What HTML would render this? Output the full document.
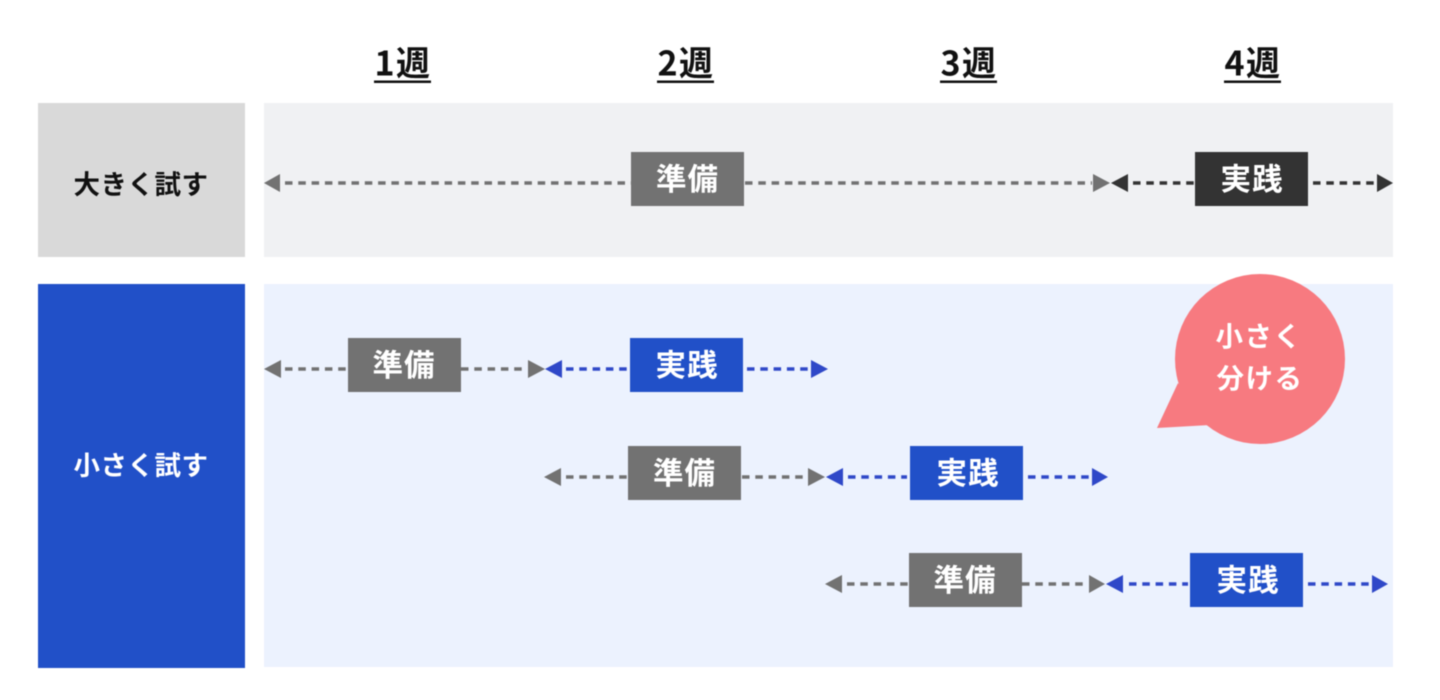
<!DOCTYPE html>
<html lang="ja"><head><meta charset="utf-8"><title>週</title>
<style>
html,body{margin:0;padding:0;background:#fff;width:1440px;height:700px;overflow:hidden}
svg{display:block}
.t{filter:blur(0.5px)}
text{font-family:"Noto Sans CJK JP","Liberation Sans",sans-serif;font-weight:700;text-anchor:middle}
.h{font-size:34px;fill:#111;letter-spacing:1.5px}
.b{font-size:30.5px;fill:#fff;letter-spacing:1px}
.l{font-size:26.5px;letter-spacing:.5px}
.s{font-size:27.5px;fill:#fff;letter-spacing:1.5px;font-weight:700}
.g{stroke:#727272;fill:#727272}
.k{stroke:#333;fill:#333}
.u{stroke:#2f48c8;fill:#2f48c8}
line{stroke-width:3.5;stroke-dasharray:7.5 5.8;fill:none}
polygon{stroke:none}
</style></head><body>
<svg width="1440" height="700" viewBox="0 0 1440 700" xmlns="http://www.w3.org/2000/svg">
<g class="t">
<rect x="38" y="103" width="207" height="154" fill="#d9d9d9"/>
<rect x="264" y="103" width="1129" height="154" fill="#f0f1f3"/>
<rect x="38" y="284" width="207" height="384" fill="#2150c8"/>
<rect x="264" y="284" width="1129" height="383" fill="#ecf2fe"/>

<text class="h" x="403" y="75.5">1週</text><rect x="374" y="80.5" width="57" height="2.5" fill="#111"/>
<text class="h" x="686" y="75.5">2週</text><rect x="657" y="80.5" width="57" height="2.5" fill="#111"/>
<text class="h" x="969" y="75.5">3週</text><rect x="940" y="80.5" width="57" height="2.5" fill="#111"/>
<text class="h" x="1253" y="75.5">4週</text><rect x="1224" y="80.5" width="57" height="2.5" fill="#111"/>

<text class="l" x="141" y="194" fill="#111">大きく試す</text>
<text class="l" x="141" y="475" fill="#fff">小さく試す</text>

<g class="g"><polygon points="264,183 280,174 280,192"/><line x1="285" y1="183" x2="631" y2="183"/><line x1="745" y1="183" x2="1092" y2="183"/><polygon points="1110,183 1093,174 1093,192"/></g>
<rect x="631" y="152" width="113" height="54" fill="#727272"/><text class="b" x="687.5" y="190">準備</text>
<g class="k"><polygon points="1111,183 1128,174 1128,192"/><line x1="1133" y1="183" x2="1195" y2="183"/><line x1="1313" y1="183" x2="1376" y2="183"/><polygon points="1393,183 1377,174 1377,192"/></g>
<rect x="1195" y="152" width="113" height="54" fill="#333"/><text class="b" x="1252" y="190">実践</text>

<g class="g"><polygon points="264,369 281,360 281,378"/><line x1="285" y1="369" x2="348" y2="369"/><line x1="461" y1="369" x2="527" y2="369"/><polygon points="545,369 528,360 528,378"/></g>
<rect x="348" y="338" width="113" height="54" fill="#727272"/><text class="b" x="404" y="376">準備</text>
<g class="u"><polygon points="545,369 562,360 562,378"/><line x1="566" y1="369" x2="627" y2="369"/><line x1="747" y1="369" x2="810" y2="369"/><polygon points="828,369 811,360 811,378"/></g>
<rect x="630" y="338" width="113" height="54" fill="#2150c8"/><text class="b" x="687" y="376">実践</text>

<g class="g"><polygon points="544,477 561,468 561,486"/><line x1="566" y1="477" x2="628" y2="477"/><line x1="742" y1="477" x2="807" y2="477"/><polygon points="825,477 808,468 808,486"/></g>
<rect x="628" y="446" width="113" height="54" fill="#727272"/><text class="b" x="684.5" y="484">準備</text>
<g class="u"><polygon points="826,477 843,468 843,486"/><line x1="848" y1="477" x2="907" y2="477"/><line x1="1028" y1="477" x2="1091" y2="477"/><polygon points="1108,477 1092,468 1092,486"/></g>
<rect x="910" y="446" width="113" height="54" fill="#2150c8"/><text class="b" x="968" y="484">実践</text>

<g class="g"><polygon points="825,584 842,575 842,593"/><line x1="847" y1="584" x2="909" y2="584"/><line x1="1022" y1="584" x2="1088" y2="584"/><polygon points="1105,584 1089,575 1089,593"/></g>
<rect x="909" y="553" width="113" height="54" fill="#727272"/><text class="b" x="965" y="591">準備</text>
<g class="u"><polygon points="1106,584 1123,575 1123,593"/><line x1="1129" y1="584" x2="1188" y2="584"/><line x1="1308" y1="584" x2="1371" y2="584"/><polygon points="1388,584 1372,575 1372,593"/></g>
<rect x="1190" y="553" width="113" height="54" fill="#2150c8"/><text class="b" x="1248" y="591">実践</text>

<circle cx="1260" cy="359" r="85" fill="#f77a80"/>
<polygon points="1178,383 1157,428 1210,425" fill="#f77a80"/>
<text class="s" x="1259" y="346">小さく</text>
<text class="s" x="1260" y="388">分ける</text>
</g>
</svg>
</body></html>
